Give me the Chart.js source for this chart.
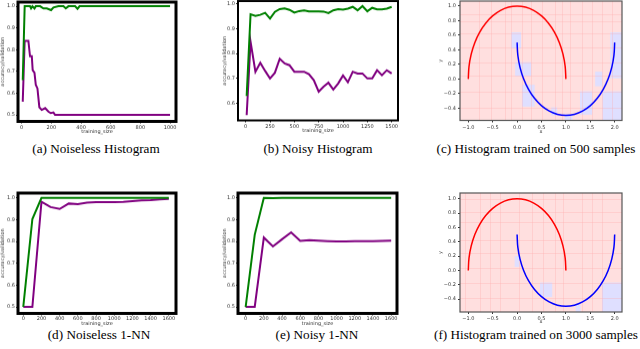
<!DOCTYPE html>
<html>
<head>
<meta charset="utf-8">
<script src="https://cdn.jsdelivr.net/npm/chart.js@4.4.0/dist/chart.umd.min.js"></script>
<style>
  body { margin: 0; background: #fff; width: 640px; height: 349px; position: relative; overflow: hidden; }
  canvas { position: absolute; }
  .cap { position: absolute; font-family: "Liberation Serif", "Times New Roman", serif; font-size: 13.2px;
         color: #000; white-space: nowrap; transform: translateX(-50%); line-height: 16px; }
</style>
</head>
<body>
<div class="cap" style="left:96px;top:141px">(a) Noiseless Histogram</div>
<div class="cap" style="left:318px;top:141px">(b) Noisy Histogram</div>
<div class="cap" style="left:536px;top:141px">(c) Histogram trained on 500 samples</div>
<div class="cap" style="left:99px;top:327px">(d) Noiseless 1-NN</div>
<div class="cap" style="left:317px;top:327px">(e) Noisy 1-NN</div>
<div class="cap" style="left:536px;top:327px">(f) Histogram trained on 3000 samples</div>
<script>
// (a) noiseless histogram
var aGreenX = [7, 20, 56, 63, 72, 86, 95, 124, 146, 169, 198, 214, 248, 281, 297, 315, 360, 376, 390, 1000];
var aGreenY = [0.66, 1.0, 1.0, 0.99, 1.0, 0.99, 1.0, 1.0, 0.99, 0.99, 0.982, 0.994, 1.0, 1.0, 0.99, 1.0, 1.0, 0.988, 1.0, 1.0];
var aPurpleX = [7, 20, 45, 56, 68, 74, 86, 95, 106, 119, 135, 158, 180, 196, 214, 225, 1000];
var aPurpleY = [0.561, 0.841, 0.841, 0.77, 0.77, 0.706, 0.694, 0.638, 0.622, 0.535, 0.523, 0.531, 0.515, 0.508, 0.511, 0.5, 0.5];

// (b) noisy histogram
var bSizes = [10, 50, 100, 150, 200, 250, 300, 350, 400, 450, 500, 550, 600, 650, 700, 750, 800, 850, 900, 950,
              1000, 1050, 1100, 1150, 1200, 1250, 1300, 1350, 1400, 1450, 1500];
var bGreen = [0.63, 0.957, 0.951, 0.955, 0.963, 0.94, 0.967, 0.978, 0.981, 0.975, 0.964, 0.97, 0.973, 0.969, 0.969, 0.969,
              0.968, 0.962, 0.973, 0.978, 0.976, 0.98, 0.987, 0.973, 0.99, 0.969, 0.983, 0.977, 0.977, 0.98, 0.987];
var bPurple = [0.553, 0.847, 0.727, 0.763, 0.73, 0.70, 0.723, 0.779, 0.76, 0.753, 0.727, 0.727, 0.727, 0.717, 0.693, 0.647,
               0.667, 0.683, 0.656, 0.68, 0.712, 0.685, 0.727, 0.72, 0.72, 0.70, 0.70, 0.733, 0.713, 0.733, 0.72];

// (d), (e) 1-NN
var nnSizes = [0, 100, 200, 300, 400, 500, 600, 700, 800, 900, 1000, 1100, 1200, 1300, 1400, 1500, 1600];
var dGreen = [0.5, 0.903, 1.0, 1.0, 1.0, 1.0, 1.0, 1.0, 1.0, 1.0, 1.0, 1.0, 1.0, 1.0, 1.0, 1.0, 1.0];
var dPurple = [0.5, 0.5, 0.982, 0.958, 0.949, 0.974, 0.971, 0.978, 0.98, 0.98, 0.981, 0.982, 0.985, 0.988, 0.99, 0.993, 0.995];
var eGreen = [0.5, 0.831, 1.0, 0.999, 1.0, 1.0, 1.0, 1.0, 1.0, 1.0, 1.0, 1.0, 1.0, 1.0, 1.0, 1.0, 1.0];
var ePurple = [0.5, 0.5, 0.818, 0.777, 0.81, 0.842, 0.803, 0.806, 0.804, 0.802, 0.8, 0.8, 0.801, 0.802, 0.802, 0.803, 0.804];

// (c), (f) two moons
var redX = [-1, -0.985, -0.94, -0.866, -0.766, -0.643, -0.5, -0.342, -0.174, 0, 0.174, 0.342, 0.5, 0.643, 0.766, 0.866, 0.94, 0.985, 1];
var redY = [0, 0.174, 0.342, 0.5, 0.643, 0.766, 0.866, 0.94, 0.985, 1, 0.985, 0.94, 0.866, 0.766, 0.643, 0.5, 0.342, 0.174, 0];
var blueX = [0, 0.015, 0.06, 0.134, 0.234, 0.357, 0.5, 0.658, 0.826, 1, 1.174, 1.342, 1.5, 1.643, 1.766, 1.866, 1.94, 1.985, 2];
var blueY = [0.5, 0.326, 0.158, 0, -0.143, -0.266, -0.366, -0.44, -0.485, -0.5, -0.485, -0.44, -0.366, -0.266, -0.143, 0, 0.158, 0.326, 0.5];

// histogram cells predicted blue: [x0, x1, y0, y1]
var cBlueCells = [[-0.12, 0.08, 0.42, 0.64], [-0.04, 0.29, 0.04, 0.23], [0.1, 0.36, -0.38, -0.08], [0.7, 0.82, -0.5, -0.39],
                  [1.29, 1.54, -0.49, -0.17], [1.75, 2.2, -0.6, -0.17], [1.91, 2.2, 0.01, 0.64], [0.98, 1.13, -0.6, -0.49],
                  [1.6, 1.75, -0.1, 0.1]];
var cVLines = [-0.79, -0.53, -0.25, -0.12, 0.1, 0.29, 0.52, 0.78, 0.92, 1.09, 1.33, 1.54, 1.74, 1.95];
var cHLines = [0.89, 0.79, 0.63, 0.43, 0.23, 0.04, -0.17, -0.39];
var fBlueCells = [[0.47, 0.72, -0.37, -0.17], [1.74, 2.2, -0.6, -0.17], [1.2, 1.3, -0.6, -0.48], [-0.05, 0.05, 0.05, 0.2]];
var fVLines = [-1.07, -0.76, -0.55, -0.35, 0.03, 0.3, 0.54, 0.78, 0.95, 1.33, 1.54, 1.74];
var fHLines = [0.99, 0.82, 0.67, 0.43, 0.25, 0.03, -0.17, -0.38];

// tick labels
var accTicks = [0.5, 0.6, 0.7, 0.8, 0.9, 1.0];
var aXTicks = [0, 200, 400, 600, 800, 1000];
var bXTicks = [0, 250, 500, 750, 1000, 1250, 1500];
var bYTicks = [0.6, 0.7, 0.8, 0.9, 1.0];
var nnXTicks = [0, 200, 400, 600, 800, 1000, 1200, 1400, 1600];
var moonXTicks = [-1.0, -0.5, 0.0, 0.5, 1.0, 1.5, 2.0];
var moonYTicks = [-0.4, -0.2, 0.0, 0.2, 0.4, 0.6, 0.8, 1.0];

Chart.defaults.font.family = "DejaVu Sans";

function pts(xs, ys) {
  return xs.map(function (x, i) { return { x: x, y: ys[i] }; });
}

function line(xs, ys, color, width, tension) {
  return { data: pts(xs, ys), borderColor: color, borderWidth: width, pointRadius: 0,
           fill: false, tension: tension || 0, backgroundColor: "transparent" };
}

function fmt(v, dec) {
  var s = dec ? v.toFixed(dec) : String(v);
  return s.replace("-", "\u2212");
}

function scaleOpts(min, max, tickVals, dec, title, labelPad, isY, size) {
  return {
    type: "linear",
    min: min,
    max: max,
    grid: { display: true, drawOnChartArea: false, drawTicks: true, tickLength: 2, color: "#000", lineWidth: 0.8 },
    border: { display: false },
    ticks: {
      font: { size: 5 }, color: "#333", padding: labelPad, autoSkip: false, maxRotation: 0,
      callback: function (v) { return fmt(v, dec); },
    },
    title: { display: true, text: title, font: { size: 5 }, color: "#333", padding: 0 },
    afterBuildTicks: function (s) { s.ticks = tickVals.map(function (v) { return { value: v }; }); },
    afterFit: function (s) {
      if (isY) s.width = size; else s.height = size;
      s.paddingLeft = 0; s.paddingRight = 0; s.paddingTop = 0; s.paddingBottom = 0;
    },
  };
}

function framePlugin(width, color) {
  return {
    id: "frame",
    afterDraw: function (chart) {
      var a = chart.chartArea, c = chart.ctx;
      c.save();
      c.lineWidth = width;
      c.strokeStyle = color;
      c.strokeRect(a.left, a.top, a.right - a.left, a.bottom - a.top);
      c.restore();
    },
  };
}

function histPlugin(cells, vLines, hLines) {
  return {
    id: "histBg",
    beforeDatasetsDraw: function (chart) {
      var a = chart.chartArea, c = chart.ctx, sx = chart.scales.x, sy = chart.scales.y;
      c.save();
      c.beginPath();
      c.rect(a.left, a.top, a.right - a.left, a.bottom - a.top);
      c.clip();
      c.fillStyle = "#ffdfdf";
      c.fillRect(a.left, a.top, a.right - a.left, a.bottom - a.top);
      c.fillStyle = "#dfdfff";
      cells.forEach(function (r) {
        var x0 = sx.getPixelForValue(r[0]), x1 = sx.getPixelForValue(r[1]);
        var y0 = sy.getPixelForValue(r[2]), y1 = sy.getPixelForValue(r[3]);
        c.fillRect(x0, y1, x1 - x0, y0 - y1);
      });
      c.strokeStyle = "rgba(255,170,170,0.3)";
      c.lineWidth = 1;
      vLines.forEach(function (v) {
        var x = Math.round(sx.getPixelForValue(v)) + 0.5;
        c.beginPath(); c.moveTo(x, a.top); c.lineTo(x, a.bottom); c.stroke();
      });
      hLines.forEach(function (v) {
        var y = Math.round(sy.getPixelForValue(v)) + 0.5;
        c.beginPath(); c.moveTo(a.left, y); c.lineTo(a.right, y); c.stroke();
      });
      c.restore();
    },
  };
}

function makeChart(frame, axisW, axisH, datasets, xScale, yScale, plugins) {
  var padT = 6, padR = 10;
  var left = frame.l - axisW, top = frame.t - padT;
  var w = frame.r + padR - left, h = frame.b + axisH - top;
  var cv = document.createElement("canvas");
  cv.width = w; cv.height = h;
  cv.style.left = left + "px"; cv.style.top = top + "px";
  cv.style.width = w + "px"; cv.style.height = h + "px";
  document.body.appendChild(cv);
  return new Chart(cv.getContext("2d"), {
    type: "line",
    data: { datasets: datasets },
    options: {
      responsive: false,
      animation: false,
      devicePixelRatio: 1,
      layout: { padding: { top: padT, right: padR, left: 0, bottom: 0 } },
      plugins: { legend: { display: false }, tooltip: { enabled: false } },
      scales: { x: xScale, y: yScale },
    },
    plugins: plugins,
  });
}

var GREEN = "#008000", PURPLE = "#800080";

// (a)
makeChart({ l: 18, t: 2, r: 176, b: 121 }, 18, 13.5,
  [line(aGreenX, aGreenY, GREEN, 2), line(aPurpleX, aPurpleY, PURPLE, 2)],
  scaleOpts(-25, 1040, aXTicks, 0, "training_size", 1, false, 13.5),
  scaleOpts(0.47, 1.019, accTicks, 1, "accuracy/validation", 1, true, 18),
  [framePlugin(3, "#000")]);

// (b)
makeChart({ l: 238, t: 1, r: 398, b: 120 }, 16, 13.5,
  [line(bSizes, bGreen, GREEN, 2), line(bSizes, bPurple, PURPLE, 2)],
  scaleOpts(-79, 1565, bXTicks, 0, "training_size", 1, false, 13.5),
  scaleOpts(0.532, 1.01, bYTicks, 1, "accuracy/validation", 1, true, 16),
  [framePlugin(2, "#000")]);

// (c)
makeChart({ l: 460, t: 1, r: 622, b: 120 }, 22, 14.5,
  [line(redX, redY, "#ff0000", 1.5, 0.4), line(blueX, blueY, "#0000ff", 1.5, 0.4)],
  scaleOpts(-1.17, 2.15, moonXTicks, 1, "x", 2, false, 14.5),
  scaleOpts(-0.569, 1.069, moonYTicks, 1, "y", 2, true, 22),
  [histPlugin(cBlueCells, cVLines, cHLines), framePlugin(1.2, "#555")]);

// (d)
makeChart({ l: 18, t: 193, r: 176, b: 313 }, 18, 13.5,
  [line(nnSizes, dGreen, GREEN, 2), line(nnSizes, dPurple, PURPLE, 2)],
  scaleOpts(-58, 1679, nnXTicks, 0, "training_size", 0.5, false, 13.5),
  scaleOpts(0.47, 1.022, accTicks, 1, "accuracy/validation", 1, true, 18),
  [framePlugin(3, "#000")]);

// (e)
makeChart({ l: 238, t: 193, r: 397, b: 313 }, 16, 13.5,
  [line(nnSizes, eGreen, GREEN, 2), line(nnSizes, ePurple, PURPLE, 2)],
  scaleOpts(-84, 1664, nnXTicks, 0, "training_size", 0.5, false, 13.5),
  scaleOpts(0.47, 1.022, accTicks, 1, "accuracy/validation", 1, true, 16),
  [framePlugin(3, "#000")]);

// (f)
makeChart({ l: 460, t: 193, r: 622, b: 312 }, 22, 13,
  [line(redX, redY, "#ff0000", 1.5, 0.4), line(blueX, blueY, "#0000ff", 1.5, 0.4)],
  scaleOpts(-1.17, 2.15, moonXTicks, 1, "x", 1.5, false, 13),
  scaleOpts(-0.58, 1.08, moonYTicks, 1, "y", 2, true, 22),
  [histPlugin(fBlueCells, fVLines, fHLines), framePlugin(1.2, "#555")]);
</script>
</body>
</html>
